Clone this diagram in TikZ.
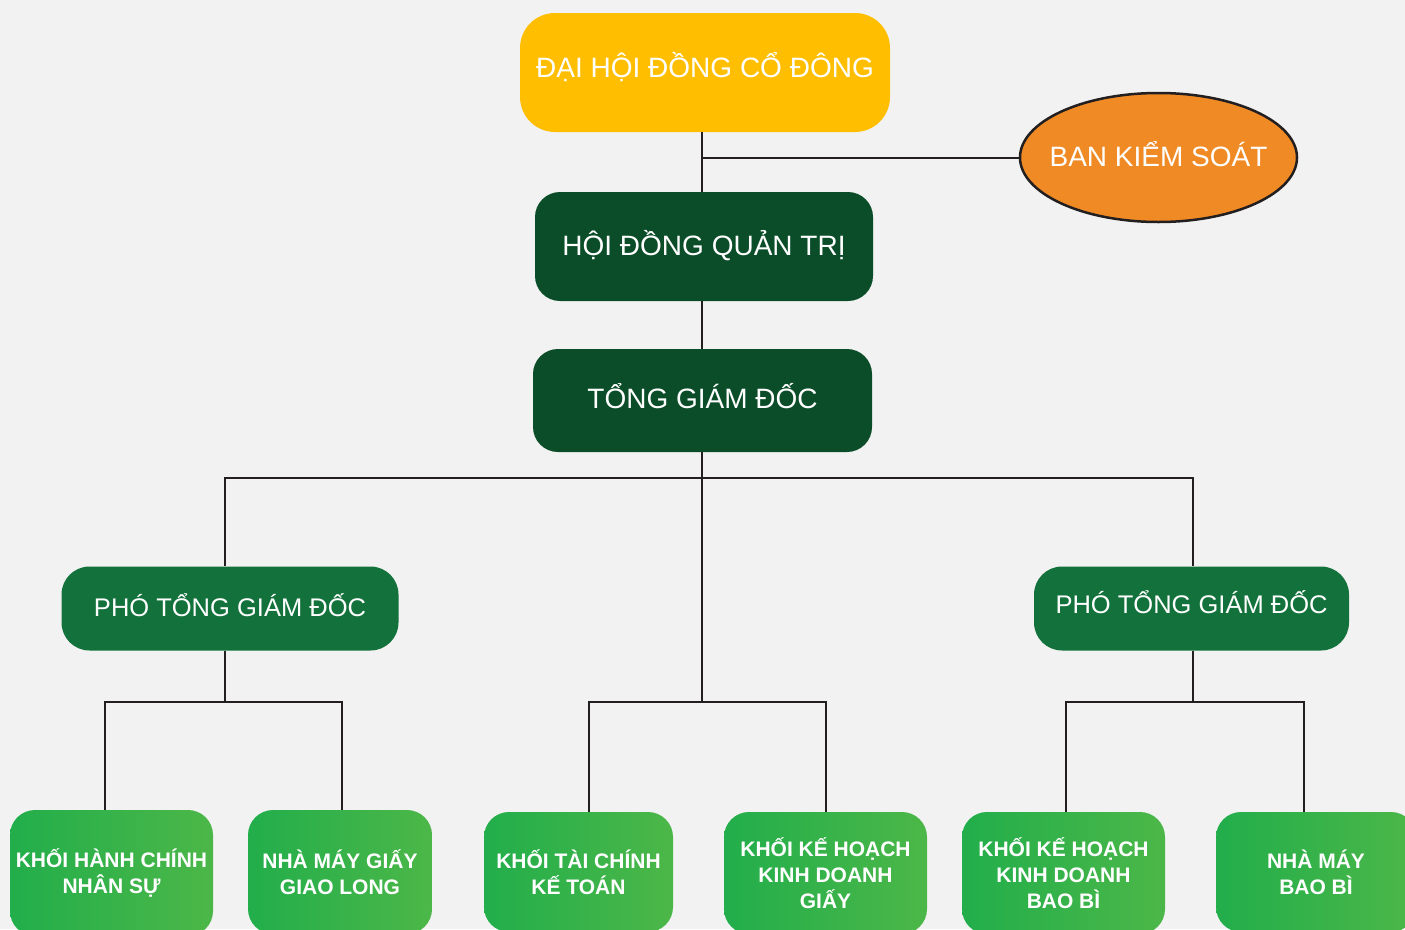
\documentclass[tikz,border=0pt]{standalone}
\usepackage{fontspec}
\setmainfont{Liberation Sans}
\usetikzlibrary{shapes.geometric}
\definecolor{nen}{HTML}{F2F2F2}
\definecolor{vang}{HTML}{FFBE00}
\definecolor{cam}{HTML}{F08A24}
\definecolor{xanhdam}{HTML}{0B4D28}
\definecolor{xanhvua}{HTML}{13723B}
\definecolor{xanhtrai}{HTML}{22AE4B}
\definecolor{xanhphai}{HTML}{4CB748}
\definecolor{duong}{HTML}{231F20}

\begin{document}
\begin{tikzpicture}[x=1pt, y=-1pt]
        \tikzstyle{box}=[rectangle,inner sep=0pt,text=white,align=center,font=\fontsize{28}{32}\selectfont]
        \tikzstyle{top}=[box,fill=vang,rounded corners=35pt,text depth=0pt]
        \tikzstyle{board}=[box,fill=xanhdam,rounded corners=25pt,text depth=0pt]
        \tikzstyle{deputy}=[box,fill=xanhvua,rounded corners=28pt,text depth=0pt,font=\fontsize{25.5}{30}\selectfont]
        \tikzstyle{unit}=[box,left color=xanhtrai,right color=xanhphai,rounded corners=25pt,font=\fontsize{21}{26}\selectfont\bfseries]
        \tikzstyle{link}=[draw=duong,line width=2pt]

        \fill[nen] (0,0) rectangle (1405,929);
        \useasboundingbox (0,0) rectangle (1405,929);

        \node[top,minimum width=370pt,minimum height=119pt,text height=10pt] (DHCD) at (705,72.5) {ĐẠI HỘI ĐỒNG CỔ ĐÔNG};
        \node[ellipse,draw=duong,line width=2.5pt,fill=cam,text=white,inner sep=0pt,minimum width=277pt,minimum height=129pt,text height=18pt,text depth=0pt,font=\fontsize{28}{32}\selectfont] (BKS) at (1158.5,157.5) {\makebox[150pt]{BAN KIỂM SOÁT}};
        \node[board,minimum width=338pt,minimum height=109pt,text height=17pt] (HDQT) at (704,246.5) {HỘI ĐỒNG QUẢN TRỊ};
        \node[board,minimum width=339pt,minimum height=103pt,text height=15pt] (TGD) at (702.5,400.5) {TỔNG GIÁM ĐỐC};
        \node[deputy,minimum width=337pt,minimum height=84pt,text height=15.3pt] (PTGD_1) at (230,608.5) {PHÓ TỔNG GIÁM ĐỐC};
        \node[deputy,minimum width=315pt,minimum height=84pt,text height=9.3pt] (PTGD_2) at (1191.5,608.5) {PHÓ TỔNG GIÁM ĐỐC};

        \node[unit,minimum width=203pt,minimum height=126pt] (K_1) at (111.5,873) {KHỐI HÀNH CHÍNH\\NHÂN SỰ};
        \node[unit,minimum width=184pt,minimum height=124pt] (K_2) at (340,872) {NHÀ MÁY GIẤY\\GIAO LONG};
        \node[unit,minimum width=189pt,minimum height=120pt] (K_3) at (578.5,872) {KHỐI TÀI CHÍNH\\KẾ TOÁN};
        \node[unit,minimum width=203pt,minimum height=122pt] (K_4) at (825.5,873) {KHỐI KẾ HOẠCH\\KINH DOANH\\GIẤY};
        \node[unit,minimum width=203pt,minimum height=122pt] (K_5) at (1063.5,873) {KHỐI KẾ HOẠCH\\KINH DOANH\\BAO BÌ};
        \node[unit,minimum width=200pt,minimum height=120pt] (K_6) at (1316,872) {NHÀ MÁY\\BAO BÌ};

        \coordinate (J_a) at (702,157.5);
        \coordinate (J_b) at (702,478);
        \coordinate (J_c) at (702,702);
        \coordinate (L_1) at (225,478);
        \coordinate (L_2) at (1193,478);
        \coordinate (P_1) at (225,702);
        \coordinate (P_2) at (1193,702);
        \coordinate (M_1) at (105,702);
        \coordinate (M_2) at (342,702);
        \coordinate (M_3) at (589,702);
        \coordinate (M_4) at (826,702);
        \coordinate (M_5) at (1066,702);
        \coordinate (M_6) at (1304,702);

        \draw[link] (J_a |- DHCD.south) -- (J_a |- HDQT.north);
        \draw[link] (J_a) -- (BKS.west);
        \draw[link] (J_a |- HDQT.south) -- (J_a |- TGD.north);
        \draw[link] (J_a |- TGD.south) -- (J_c);
        \draw[link] (L_1 |- PTGD_1.north) -- (L_1) -- (L_2) -- (L_2 |- PTGD_2.north);
        \draw[link] (L_1 |- PTGD_1.south) -- (P_1);
        \draw[link] (L_2 |- PTGD_2.south) -- (P_2);
        \draw[link] (M_1 |- K_1.north) -- (M_1) -- (M_2) -- (M_2 |- K_2.north);
        \draw[link] (M_3 |- K_3.north) -- (M_3) -- (M_4) -- (M_4 |- K_4.north);
        \draw[link] (M_5 |- K_5.north) -- (M_5) -- (M_6) -- (M_6 |- K_6.north);
    \end{tikzpicture}
\end{document}
